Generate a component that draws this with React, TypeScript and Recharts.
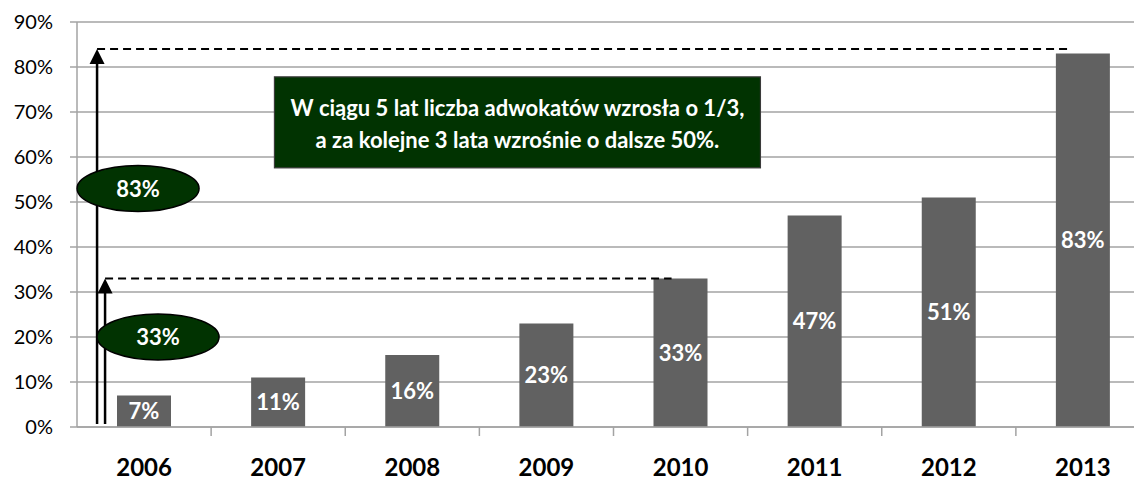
import { Bar, BarChart, CartesianGrid, LabelList, ReferenceDot, ReferenceLine, XAxis, YAxis } from 'recharts';

const YEARS = ['2006', '2007', '2008', '2009', '2010', '2011', '2012', '2013'];
const GROWTH = [7, 11, 16, 23, 33, 47, 51, 83];
const Y_TICKS = [0, 10, 20, 30, 40, 50, 60, 70, 80, 90];

// annotation levels (in % of the y axis)
const ARROW_LEVELS = [84, 33];
const ARROW_ENDS = ['2013', '2010'];
const BUBBLE_LABELS = ['83%', '33%'];
const BUBBLE_LEVELS = [53, 20];
const NOTE_LINES = ['W ciągu 5 lat liczba adwokatów wzrosła o 1/3,', 'a za kolejne 3 lata wzrośnie o dalsze 50%.'];
const NOTE_LEVEL = 67.7;

const data = YEARS.map((year, i) => ({ year, growth: GROWTH[i] }));

const W = 1150;
const H = 481;
const MARGIN = { top: 22, right: 0, bottom: 1, left: 0 };
const Y_AXIS_W = 77;
const X_AXIS_H = 53;
const PLOT_BOTTOM = H - MARGIN.bottom - X_AXIS_H;
const BAND = (W - Y_AXIS_W) / YEARS.length;
const FONT = 'Lato, "Open Sans", sans-serif';
const GREEN = '#013301';
const GRID = '#a3a3a3';

// arrow x offsets from the 2006 centre, dashed-line end offsets, bubble offsets
const ARROW_DX = [-47, -39];
const DASH_END_DX = [-12, -9];
const BUBBLE_DX = [-6, 14];

function YearTick({ x, payload }: any) {
  return (
    <g>
      <line x1={x + BAND / 2} x2={x + BAND / 2} y1={PLOT_BOTTOM} y2={PLOT_BOTTOM + 9} stroke={GRID} strokeWidth={1.5} />
      <text x={x} y={PLOT_BOTTOM + 49} textAnchor="middle" fontFamily={FONT} fontWeight={700} fontSize={24} fill="#000">
        {payload.value}
      </text>
    </g>
  );
}

function arrowShape(dx: number) {
  return (p: any) => {
    const x = p.x1 + dx;
    const top = Math.min(p.y1, p.y2);
    const bottom = Math.max(p.y1, p.y2);
    return (
      <g>
        <line x1={x} x2={x} y1={bottom - 3} y2={top + 12} stroke="#000" strokeWidth={2.5} />
        <polygon points={`${x},${top} ${x - 7.5},${top + 15} ${x + 7.5},${top + 15}`} fill="#000" />
      </g>
    );
  };
}

function dashShape(dx: number, endDx: number) {
  return (p: any) => (
    <line x1={p.x1 + dx} x2={p.x2 + endDx} y1={p.y1} y2={p.y2} stroke="#000" strokeWidth={2} strokeDasharray="8 5" />
  );
}

function bubbleShape(dx: number, label: string) {
  return (p: any) => (
    <g>
      <ellipse cx={p.cx + dx} cy={p.cy} rx={61} ry={23} fill={GREEN} stroke="#000" strokeWidth={1.5} />
      <text x={p.cx + dx} y={p.cy + 8} textAnchor="middle" fontFamily={FONT} fontWeight={700} fontSize={22} fill="#fff">
        {label}
      </text>
    </g>
  );
}

function noteShape(p: any) {
  const cx = p.cx - 29;
  return (
    <g>
      <rect x={cx - 243} y={p.cy - 45.5} width={486} height={91} fill={GREEN} stroke="#3a3a3a" strokeWidth={1.2} />
      {NOTE_LINES.map((line, i) => (
        <text key={i} x={cx} y={p.cy - 6 + i * 32} textAnchor="middle" fontFamily={FONT} fontWeight={700} fontSize={22} fill="#fff">
          {line}
        </text>
      ))}
    </g>
  );
}

export default function App() {
  return (
    <div style={{ position: 'absolute', left: 0, top: 0, width: 1134, height: 481, overflow: 'hidden', background: '#fff' }}>
      <BarChart width={W} height={H} data={data} margin={MARGIN} barCategoryGap={0}>
        <CartesianGrid vertical={false} stroke={GRID} strokeWidth={1.5} />
        <XAxis
          dataKey="year"
          height={X_AXIS_H}
          tickLine={false}
          axisLine={{ stroke: GRID, strokeWidth: 1.5 }}
          tick={<YearTick />}
          interval={0}
        />
        <YAxis
          width={Y_AXIS_W}
          domain={[0, 90]}
          ticks={Y_TICKS}
          tickFormatter={(v) => `${v}%`}
          tickSize={7}
          tickMargin={17}
          tickLine={{ stroke: GRID, strokeWidth: 1.5 }}
          axisLine={{ stroke: GRID, strokeWidth: 1.5 }}
          tick={{ fontFamily: FONT, fontSize: 20, fill: '#000' }}
        />
        <Bar dataKey="growth" fill="#616161" barSize={54} isAnimationActive={false}>
          <LabelList
            dataKey="growth"
            position="center"
            formatter={(v: any) => `${v}%`}
            fill="#fff"
            fontFamily={FONT}
            fontWeight={700}
            fontSize={22}
          />
        </Bar>
        {ARROW_LEVELS.map((lvl, i) => (
          <ReferenceLine
            key={`d${i}`}
            segment={[{ x: YEARS[0], y: lvl }, { x: ARROW_ENDS[i], y: lvl }]}
            shape={dashShape(ARROW_DX[i], DASH_END_DX[i])}
          />
        ))}
        {ARROW_LEVELS.map((lvl, i) => (
          <ReferenceLine
            key={`a${i}`}
            segment={[{ x: YEARS[0], y: 0 }, { x: YEARS[0], y: lvl }]}
            shape={arrowShape(ARROW_DX[i])}
          />
        ))}
        {BUBBLE_LEVELS.map((lvl, i) => (
          <ReferenceDot key={`b${i}`} x={YEARS[0]} y={lvl} shape={bubbleShape(BUBBLE_DX[i], BUBBLE_LABELS[i])} />
        ))}
        <ReferenceDot x={YEARS[3]} y={NOTE_LEVEL} shape={noteShape} />
      </BarChart>
    </div>
  );
}
